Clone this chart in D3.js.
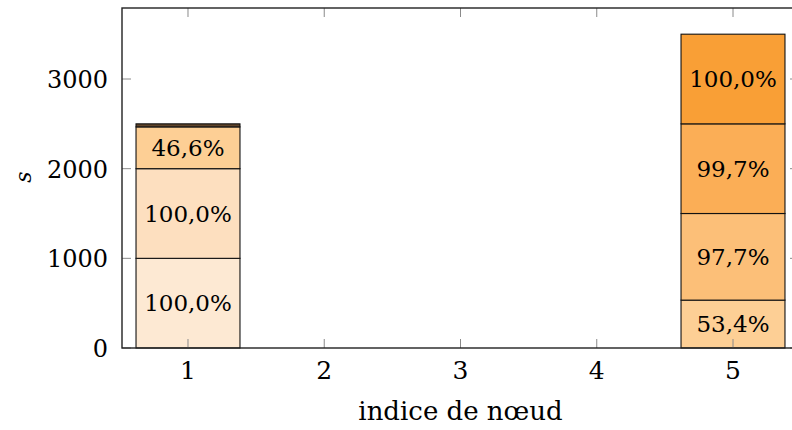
<!DOCTYPE html>
<html>
<head>
<meta charset="utf-8">
<script src="https://cdn.jsdelivr.net/npm/d3@7"></script>
<style>
  html, body { margin: 0; padding: 0; background: #fff; }
  svg { display: block; }
</style>
</head>
<body>
<svg id="chart" width="792" height="430"></svg>
<script>
// ---- data ----
const categories = [1, 2, 3, 4, 5];
const seriesA = [1000, 0, 0, 0, 534];
const seriesB = [1000, 0, 0, 0, 966];
const seriesC = [466, 0, 0, 0, 1000];
const seriesD = [34, 0, 0, 0, 1000];
const labelsA = ["100,0%", "", "", "", "53,4%"];
const labelsB = ["100,0%", "", "", "", "97,7%"];
const labelsC = ["46,6%", "", "", "", "99,7%"];
const labelsD = ["", "", "", "", "100,0%"];
const colorsA = ["#fde9d3", null, null, null, "#fdcf95"];
const colorsB = ["#fddfbf", null, null, null, "#fcbf78"];
const colorsC = ["#fdcf95", null, null, null, "#fbae56"];
const colorsD = ["#5e4329", null, null, null, "#f99f36"];
const yTicks = [0, 1000, 2000, 3000];
const xTicks = [1, 2, 3, 4, 5];
const xTitle = "indice de nœud";
const yTitle = "s";

(function () {
const FONT = "'DejaVu Serif', 'Liberation Serif', serif";
// ---- layout ----
const svg = d3.select("#chart").attr("font-family", FONT);
const mLeft = 122, mRight = 799, mTop = 8, mBottom = 348;
const x = d3.scaleLinear().domain([0.5156, 5.4844]).range([mLeft, mRight]);
const y = d3.scaleLinear().domain([0, 3792]).range([mBottom, mTop]);
const barW = x(1.763) - x(1);

const keys = ["A", "B", "C", "D"];
const seriesMap = { A: seriesA, B: seriesB, C: seriesC, D: seriesD };
const labelMap = { A: labelsA, B: labelsB, C: labelsC, D: labelsD };
const colorMap = { A: colorsA, B: colorsB, C: colorsC, D: colorsD };
const rows = categories.map((c, i) => ({ cat: c, i: i, A: seriesA[i], B: seriesB[i], C: seriesC[i], D: seriesD[i] }));
const stacked = d3.stack().keys(keys)(rows);

// bars
const g = svg.append("g");
stacked.forEach(layer => {
  const k = layer.key;
  layer.forEach(d => {
    const i = d.data.i;
    if (seriesMap[k][i] <= 0) return;
    g.append("rect")
      .attr("x", x(d.data.cat) - barW / 2)
      .attr("y", y(d[1]))
      .attr("width", barW)
      .attr("height", y(d[0]) - y(d[1]))
      .attr("fill", colorMap[k][i])
      .attr("stroke", "#111")
      .attr("stroke-width", 1.1);
  });
});
// labels in bars
stacked.forEach(layer => {
  const k = layer.key;
  layer.forEach(d => {
    const i = d.data.i;
    const lab = labelMap[k][i];
    if (!lab) return;
    g.append("text")
      .attr("x", x(d.data.cat))
      .attr("y", y((d[0] + d[1]) / 2) + 8)
      .attr("text-anchor", "middle")
      .attr("font-size", 23)
      .text(lab);
  });
});

// ticks (inside, both sides)
const tl = 9;
const tg = svg.append("g").attr("stroke", "#8a8a8a").attr("stroke-width", 1);
xTicks.forEach(t => {
  tg.append("line").attr("x1", x(t)).attr("x2", x(t)).attr("y1", mBottom).attr("y2", mBottom - tl);
  tg.append("line").attr("x1", x(t)).attr("x2", x(t)).attr("y1", mTop).attr("y2", mTop + tl);
});
yTicks.forEach(t => {
  tg.append("line").attr("x1", mLeft).attr("x2", mLeft + tl).attr("y1", y(t)).attr("y2", y(t));
  tg.append("line").attr("x1", mRight).attr("x2", mRight - tl).attr("y1", y(t)).attr("y2", y(t));
});

// frame
svg.append("rect")
  .attr("x", mLeft).attr("y", mTop)
  .attr("width", mRight - mLeft).attr("height", mBottom - mTop)
  .attr("fill", "none").attr("stroke", "#222").attr("stroke-width", 1.4);

// tick labels
xTicks.forEach(t => {
  svg.append("text").attr("x", x(t)).attr("y", 379)
    .attr("text-anchor", "middle").attr("font-size", 25).text(t);
});
yTicks.forEach(t => {
  svg.append("text").attr("x", 108).attr("y", y(t) + 9)
    .attr("text-anchor", "end").attr("font-size", 24).text(t);
});

// axis titles
svg.append("text").attr("x", (mLeft + mRight) / 2).attr("y", 420)
  .attr("text-anchor", "middle").attr("font-size", 26)
  .text(xTitle);
svg.append("text")
  .attr("transform", `translate(31,177) rotate(-90)`)
  .attr("text-anchor", "middle").attr("font-size", 22).attr("font-style", "italic")
  .text(yTitle);
})();
</script>
</body>
</html>
